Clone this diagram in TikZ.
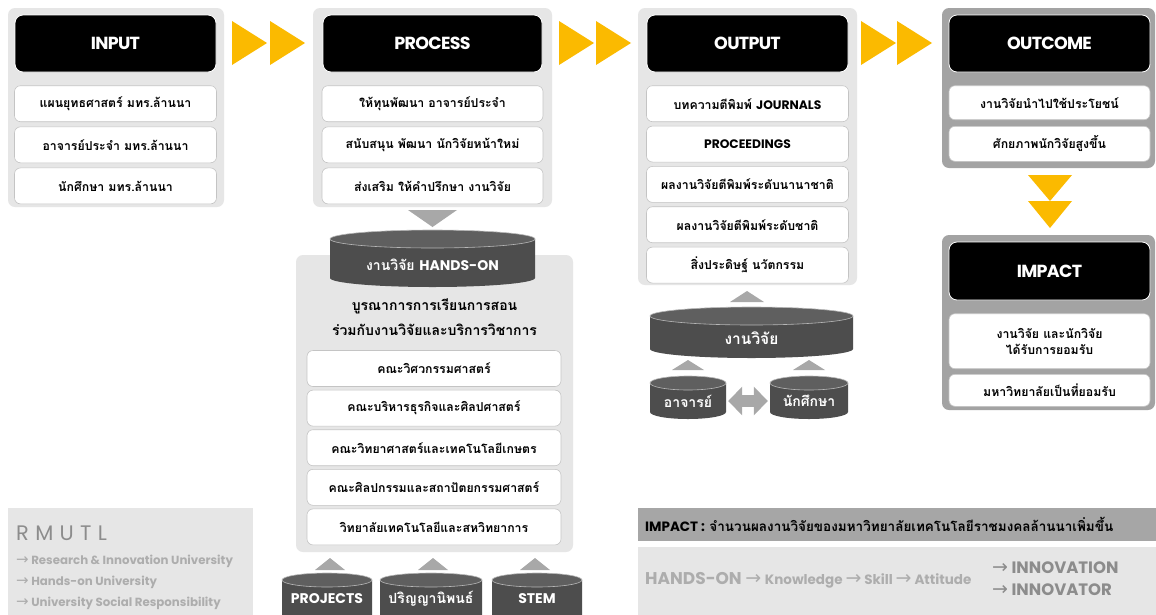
\documentclass[tikz,border=0pt]{standalone}
\usepackage{fontspec}
\setmainfont[Script=Thai]{Loma}
\newfontfamily\latf{Poppins}
\newfontfamily\arrf{DejaVu Sans}
\usetikzlibrary{positioning,arrows.meta}
\definecolor{panelgrey}{HTML}{E6E6E6}
\definecolor{darkpanel}{HTML}{A3A3A3}
\definecolor{itemline}{HTML}{C4C4C4}
\definecolor{chevron}{HTML}{FBBA00}
\definecolor{trigrey}{HTML}{A8A8A8}
\definecolor{drumbody}{HTML}{4D4D4D}
\definecolor{drumtop}{HTML}{5F5F5F}
\definecolor{barfill}{HTML}{A6A6A6}
\definecolor{softtext}{HTML}{ADADAD}
\definecolor{midtext}{HTML}{8C8C8C}
% drum: name, centre x, lid y, base y, x radius, y radius, text y, text
\newcommand\drum[8]{%
  \fill[drumside] (#2-#5,#3) -- (#2-#5,#4) arc[start angle=180,end angle=360,x radius=#5pt,y radius=#6pt] -- (#2+#5,#3) -- cycle;
  \filldraw[drumlid] (#2,#3) ellipse[x radius=#5pt,y radius=#6pt];
  \node[drumtext, minimum width=2*#5pt] (#1) at (#2,#7) {#8};
}
\newcommand\arr[1]{{\arrf\mdseries\fontsize{#1}{#1}\selectfont →}}
\begin{document}
\begin{tikzpicture}[x=1pt, y=-1pt,
  panel/.style={fill=panelgrey, rounded corners=7pt, inner sep=0pt},
  darkbox/.style={fill=darkpanel, rounded corners=7pt, inner sep=0pt},
  head/.style={fill=black, draw=white, line width=0.8pt, rounded corners=8pt, text=white, inner sep=0pt,
    minimum width=201pt, minimum height=57pt, font=\latf\bfseries\fontsize{17.5}{19}\selectfont\addfontfeature{LetterSpace=-4}},
  item/.style={fill=white, draw=itemline, line width=0.6pt, rounded corners=6pt, inner sep=0pt,
    minimum width=202pt, minimum height=36pt, align=center, font=\bfseries\fontsize{12.3}{16}\selectfont},
  drumside/.style={fill=drumbody},
  drumlid/.style={fill=drumtop, draw=white!55!drumtop, line width=0.6pt},
  drumtext/.style={text=white, inner sep=0pt, font=\bfseries\fontsize{14}{16}\selectfont},
  chev/.style={fill=chevron},
  pointer/.style={fill=trigrey},
  twoway/.style={draw=trigrey, line width=12pt, {Triangle[width=28pt,length=14pt]}-{Triangle[width=28pt,length=14pt]}}
]
\useasboundingbox[fill=white] (0,0) rectangle (1156,614);

% INPUT
\node[panel, minimum width=216pt, minimum height=199pt] (inbox) at (116,107.5) {};
\node[head] (inhead) at (115.5,43.5) {INPUT};
\node[item, below=13pt of inhead] (in1) {แผนยุทธศาสตร์ มทร.ล้านนา};
\node[item, below=4.5pt of in1] (in2) {อาจารย์ประจำ มทร.ล้านนา};
\node[item, below=4.5pt of in2] (in3) {นักศึกษา มทร.ล้านนา};

% PROCESS
\node[panel, minimum width=239pt, minimum height=199pt] (procbox) at (432.5,107.5) {};
\node[head, minimum width=219pt] (prochead) at (432.5,43.5) {PROCESS};
\node[item, minimum width=221pt, below=13pt of prochead] (proc1) {ให้ทุนพัฒนา อาจารย์ประจำ};
\node[item, minimum width=221pt, below=4.5pt of proc1] (proc2) {สนับสนุน พัฒนา นักวิจัยหน้าใหม่};
\node[item, minimum width=221pt, below=4.5pt of proc2] (proc3) {ส่งเสริม ให้คำปรึกษา งานวิจัย};

\fill[pointer] (408,210) -- (457,210) -- (432.5,227) -- cycle;

% HANDS-ON
\node[panel, minimum width=277pt, minimum height=297pt] (handsbox) at (434.5,403.5) {};
\drum{handson}{432.5}{239}{278}{102.5}{9}{265}{งานวิจัย {\latf HANDS-ON}}
\node[align=center, inner sep=0pt, font=\bfseries\fontsize{14}{25}\selectfont] (handstitle) at (434.5,317) {บูรณาการการเรียนการสอน\\ร่วมกับงานวิจัยและบริการวิชาการ};
\node[item, minimum width=254pt] (fac1) at (434,368.5) {คณะวิศวกรรมศาสตร์};
\node[item, minimum width=254pt, below=3pt of fac1] (fac2) {คณะบริหารธุรกิจและศิลปศาสตร์};
\node[item, minimum width=254pt, below=3pt of fac2] (fac3) {คณะวิทยาศาสตร์และเทคโนโลยีเกษตร};
\node[item, minimum width=254pt, below=3pt of fac3] (fac4) {คณะศิลปกรรมและสถาปัตยกรรมศาสตร์};
\node[item, minimum width=254pt, below=3pt of fac4] (fac5) {วิทยาลัยเทคโนโลยีและสหวิทยาการ};

\fill[pointer] (315,570) -- (345,570) -- (330,558) -- cycle;
\fill[pointer] (418,570) -- (448,570) -- (433,558) -- cycle;
\fill[pointer] (520,570) -- (550,570) -- (535,558) -- cycle;
\drum{projects}{327}{580}{625}{45}{7}{599}{\latf PROJECTS}
\drum{thesis}{431}{580}{625}{51}{7}{599}{ปริญญานิพนธ์}
\drum{stem}{537}{580}{625}{45}{7}{599}{\latf STEM}

% OUTPUT
\node[panel, minimum width=219pt, minimum height=277pt] (outbox) at (747.5,146.5) {};
\node[head] (outhead) at (747.5,43.5) {OUTPUT};
\node[item, below=13pt of outhead] (out1) {บทความตีพิมพ์ {\latf JOURNALS}};
\node[item, below=3.75pt of out1] (out2) {\latf PROCEEDINGS};
\node[item, below=3.75pt of out2] (out3) {ผลงานวิจัยตีพิมพ์ระดับนานาชาติ};
\node[item, below=3.75pt of out3] (out4) {ผลงานวิจัยตีพิมพ์ระดับชาติ};
\node[item, below=3.75pt of out4] (out5) {สิ่งประดิษฐ์ นวัตกรรม};

\fill[pointer] (730,302) -- (764,302) -- (747,291) -- cycle;
\drum{research}{751.5}{316}{349}{101.5}{9}{338}{\fontsize{15.5}{17}\selectfont งานวิจัย}
\fill[pointer] (672,370) -- (704,370) -- (688,360) -- cycle;
\fill[pointer] (793,370) -- (825,370) -- (809,360) -- cycle;
\drum{ajarn}{688}{383}{412}{38}{7}{401}{อาจารย์}
\drum{student}{809}{383}{412}{39}{7}{401}{นักศึกษา}
\draw[twoway] ([xshift=2pt]ajarn.east) -- ([xshift=-2pt]student.west);

% OUTCOME and IMPACT
\node[darkbox, minimum width=213pt, minimum height=160pt] (outcomebox) at (1048.5,88) {};
\node[head] (outcomehead) at (1049.5,43.5) {OUTCOME};
\node[item, minimum width=201pt, minimum height=34pt, below=13pt of outcomehead] (oc1) {งานวิจัยนำไปใช้ประโยชน์};
\node[item, minimum width=201pt, minimum height=35pt, below=6pt of oc1] (oc2) {ศักยภาพนักวิจัยสูงขึ้น};

\fill[chev] (1028,175) -- (1072,175) -- (1050,201) -- cycle;
\fill[chev] (1028,201) -- (1072,201) -- (1050,228) -- cycle;

\node[darkbox, minimum width=213pt, minimum height=175pt] (impactbox) at (1048.5,322.5) {};
\node[head, minimum height=58pt] (impacthead) at (1049.5,271) {IMPACT};
\node[item, minimum width=201pt, minimum height=55pt, below=13pt of impacthead] (im1) {งานวิจัย และนักวิจัย\\ได้รับการยอมรับ};
\node[item, minimum width=201pt, minimum height=32pt, below=5pt of im1] (im2) {มหาวิทยาลัยเป็นที่ยอมรับ};

% chevrons between the panels
\fill[chev] (232,21) -- (267,43) -- (232,65) -- cycle;
\fill[chev] (270,21) -- (305,43) -- (270,65) -- cycle;
\fill[chev] (559,21) -- (594,43) -- (559,65) -- cycle;
\fill[chev] (596,21) -- (631,43) -- (596,65) -- cycle;
\fill[chev] (861,21) -- (896,43) -- (861,65) -- cycle;
\fill[chev] (897,21) -- (932,43) -- (897,65) -- cycle;

% RMUTL
\fill[panelgrey] (8,508) rectangle (253,620);
\node[anchor=west, inner sep=0pt, text=midtext, font=\latf\fontsize{21}{22}\selectfont\addfontfeature{LetterSpace=30}] (rmutl) at (16,533) {RMUTL};
\node[anchor=west, inner sep=0pt, text=softtext, font=\latf\bfseries\fontsize{11.8}{12}\selectfont] (rm1) at (16,561) {\arr{15} Research \& Innovation University};
\node[anchor=west, inner sep=0pt, text=softtext, font=\latf\bfseries\fontsize{11.8}{12}\selectfont] (rm2) at (16,582) {\arr{15} Hands-on University};
\node[anchor=west, inner sep=0pt, text=softtext, font=\latf\bfseries\fontsize{11.8}{12}\selectfont] (rm3) at (16,603) {\arr{15} University Social Responsibility};

% IMPACT bar
\fill[barfill] (638,508) rectangle (1160,541);
\node[anchor=west, inner sep=0pt, font=\bfseries\fontsize{13.5}{15}\selectfont] (impactline) at (645,524.5) {{\latf IMPACT :} จำนวนผลงานวิจัยของมหาวิทยาลัยเทคโนโลยีราชมงคลล้านนาเพิ่มขึ้น};
\fill[panelgrey] (638,547) rectangle (1160,620);
\node[anchor=west, inner sep=0pt, text=softtext, font=\latf\bfseries] (chain) at (645,580)
  {\fontsize{17}{19}\selectfont HANDS-ON \arr{19} \fontsize{13.5}{15}\selectfont Knowledge \arr{19} Skill \arr{19} Attitude};
\node[anchor=west, inner sep=0pt, align=left, text=midtext, font=\latf\bfseries\fontsize{16.5}{22}\selectfont] (innov) at (992,579)
  {\arr{19} INNOVATION\\\arr{19} INNOVATOR};
\end{tikzpicture}
\end{document}
